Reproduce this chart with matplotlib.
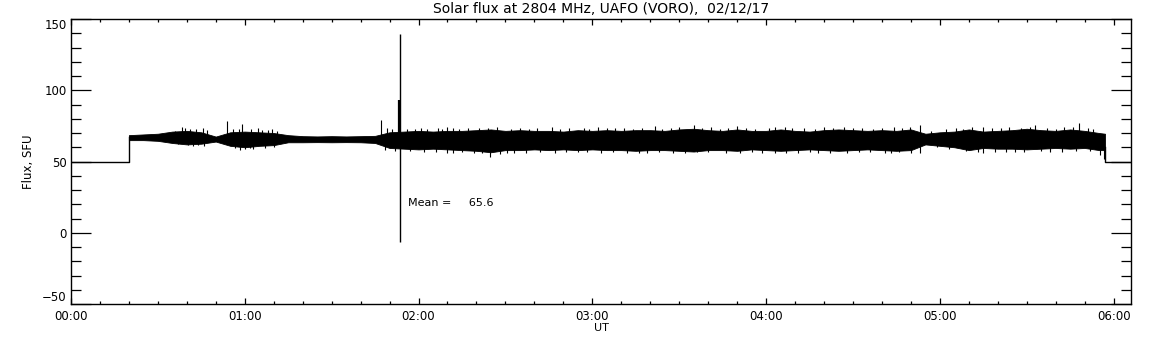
import numpy as np
import matplotlib
matplotlib.use("Agg")
import matplotlib.pyplot as plt
from matplotlib.ticker import MultipleLocator, FixedLocator

# --- values (time in minutes after 00:00 UT) --- #

title = "Solar flux at 2804 MHz, UAFO (VORO),  02/12/17"
mean_flux = 65.6

# quiet level before / after the observation
base_level = 50.0
t_start = 20.0
t_end = 357.0
t_axis_end = 366.0

# envelope of the noisy flux record, one value every 5 minutes
t_env = [20, 25, 30, 35, 40, 45, 50, 55, 60, 65, 70, 75, 80, 85, 90, 95,
         100, 105, 110, 115, 120, 125, 130, 135, 140, 145, 150, 155, 160,
         165, 170, 175, 180, 185, 190, 195, 200, 205, 210, 215, 220, 225,
         230, 235, 240, 245, 250, 255, 260, 265, 270, 275, 280, 285, 290,
         295, 300, 305, 310, 315, 320, 325, 330, 335, 340, 345, 350, 355, 357]
flux_top = [68.5, 69.0, 69.5, 71.0, 71.5, 70.5, 67.5, 70.5, 71.0, 70.5,
            70.0, 68.5, 67.8, 67.6, 67.8, 67.6, 67.8, 68.0, 70.5, 71.0,
            71.5, 71.0, 71.5, 71.5, 72.0, 72.5, 71.5, 72.0, 71.5, 71.5,
            71.0, 72.0, 71.5, 72.0, 71.5, 72.0, 72.0, 71.5, 72.5, 73.0,
            72.0, 71.5, 72.5, 71.5, 71.5, 72.5, 71.5, 71.0, 72.0, 72.5,
            72.0, 71.5, 72.0, 71.5, 72.5, 69.5, 70.5, 71.0, 72.5, 71.0,
            71.5, 72.0, 73.0, 72.0, 71.5, 72.5, 71.5, 70.0, 69.5]
flux_bot = [65.0, 65.0, 64.5, 63.0, 62.0, 62.5, 64.0, 61.0, 60.0, 61.0,
            61.5, 63.5, 63.5, 63.6, 63.5, 63.6, 63.5, 63.0, 59.5, 59.0,
            58.5, 59.0, 58.5, 58.0, 57.5, 56.5, 58.0, 58.0, 58.5, 58.0,
            58.5, 58.0, 58.5, 58.0, 58.0, 57.5, 58.0, 58.0, 57.5, 57.0,
            58.0, 58.0, 57.5, 58.5, 58.0, 57.5, 58.0, 58.5, 58.0, 57.5,
            58.0, 58.5, 58.0, 57.5, 58.0, 62.0, 61.0, 60.0, 58.0, 59.5,
            59.0, 59.0, 58.5, 59.0, 59.5, 59.0, 59.5, 58.0, 58.0]

# single spikes sticking out of the band
spike_t = [36, 38.2, 39.4, 41, 43, 45.6, 47, 54.0, 56, 58, 59.2, 62, 64.7,
           66, 68, 69.3, 71, 107.0, 109.0, 111, 116, 118.8, 121, 123, 126.8,
           128, 129.8, 132.0, 134, 137, 141, 144.0, 147, 152, 155, 158, 161,
           166.0, 169, 172, 177, 179, 182.0, 185, 188.0, 191, 194, 197,
           201.7, 204, 207, 210, 215.0, 218, 221, 224, 227, 230.0, 233, 236,
           241, 243, 246.6, 249, 253, 257, 260, 263, 267, 270.0, 273, 277,
           280, 284, 287, 289.8, 293.3, 297, 302, 305.6, 308, 311, 315.0,
           318, 321, 324, 328, 331, 333.0, 337, 340, 343, 346.0, 348.2, 351,
           353]
spike_v = [71.5, 74.4, 73.3, 72.5, 73.0, 73.3, 72.0, 78.4, 72.5, 73.0, 76.0,
           72.8, 73.3, 72.0, 72.4, 72.6, 71.5, 79.1, 73.3, 72.5, 73.0, 72.6,
           73.2, 72.8, 73.3, 72.5, 74.4, 73.3, 73.0, 73.8, 73.2, 73.3, 74.0,
           73.0, 73.6, 72.8, 73.4, 74.4, 72.9, 73.5, 73.8, 73.0, 74.4, 73.2,
           73.3, 73.6, 72.9, 73.8, 74.9, 73.1, 73.7, 74.0, 75.6, 73.3, 73.9,
           73.0, 73.5, 74.9, 73.8, 73.1, 73.6, 74.0, 74.4, 73.2, 73.7, 73.0,
           73.9, 73.4, 74.0, 73.3, 73.8, 73.1, 73.6, 74.1, 73.2, 74.4, 75.6,
           71.5, 72.5, 73.3, 73.0, 74.0, 74.4, 73.2, 73.6, 73.9, 73.4, 74.3,
           75.6, 73.6, 73.0, 74.2, 74.4, 77.3, 73.5, 72.8]
dip_t = [37, 40.5, 42, 44, 46, 56.5, 58.4, 60, 61.8, 63, 67, 70, 108.5, 112,
         117, 122, 126, 130.0, 132.0, 135, 139, 142, 144.7, 148, 150.5, 153,
         157, 162, 167, 171, 175.0, 178, 183, 187, 192, 196, 199.0, 203,
         208, 212.0, 216, 220, 226, 231, 235, 238.6, 243, 247, 251.0, 255,
         258, 262, 268, 272, 276, 281, 283.0, 286, 290, 293.0, 299, 303,
         309, 313, 315.0, 319, 323, 326.0, 329, 335, 338, 342, 347, 352,
         355.4, 356.5]
dip_v = [62.0, 61.6, 61.0, 61.3, 61.0, 59.5, 58.1, 58.8, 59.3, 59.0, 59.5,
         60.0, 58.0, 57.5, 57.2, 56.8, 57.0, 55.7, 55.7, 56.5, 56.0, 56.3,
         53.4, 55.5, 55.7, 56.3, 56.0, 56.6, 56.2, 56.8, 57.0, 56.4, 56.1,
         56.7, 56.2, 55.9, 56.2, 56.5, 56.0, 55.7, 56.4, 56.8, 56.1, 55.8,
         56.6, 55.7, 56.2, 55.9, 56.2, 56.6, 56.0, 56.3, 55.8, 56.5, 56.9,
         56.1, 55.7, 56.4, 56.0, 55.7, 60.0, 58.5, 57.5, 56.8, 56.2, 57.0,
         56.8, 57.0, 56.5, 57.2, 57.0, 56.7, 57.1, 57.3, 54.5, 52.0]

# the burst near 01:53
burst_t = 113.6
burst_lo = -6.5
burst_hi = 139.5
burst2_t = 113.2
burst2_hi = 93.2

# --- figure --- #

plt.rcParams['font.family'] = ['DejaVu Sans']
fig = plt.figure(figsize=(11.52, 3.45), dpi=100)
ax = fig.add_axes([0.0616, 0.1188, 0.9202, 0.8261])

k = 'black'
# baseline before and after
ax.plot([0, t_start, t_start], [base_level, base_level, 67.0], color=k, lw=1.0)
ax.plot([t_end, t_end, t_axis_end], [60.0, base_level, base_level], color=k, lw=1.0)

# the noisy band
ax.fill_between(t_env, flux_bot, flux_top, color=k, lw=0.6, edgecolor=k)

ax.vlines(spike_t, mean_flux, spike_v, color=k, lw=0.8)
ax.vlines(dip_t, dip_v, mean_flux, color=k, lw=0.8)
ax.vlines([burst_t], burst_lo, burst_hi, color=k, lw=1.0)
ax.vlines([burst2_t], mean_flux, burst2_hi, color=k, lw=1.6)

ax.text(116.5, 21.0, "Mean =     %.1f" % mean_flux, fontsize=8, va='center')

ax.set_xlim(0, t_axis_end)
ax.set_ylim(-50, 150)

xt = [0, 60, 120, 180, 240, 300, 360]
xl = ["00:00", "01:00", "02:00", "03:00", "04:00", "05:00", "06:00"]
ax.xaxis.set_major_locator(FixedLocator(xt))
ax.set_xticklabels(xl)
ax.xaxis.set_minor_locator(MultipleLocator(10))
ax.yaxis.set_major_locator(FixedLocator([-50, 0, 50, 100, 150]))
ax.yaxis.set_minor_locator(MultipleLocator(10))

ax.tick_params(axis='both', which='both', direction='in', top=True,
               right=True, color=k, width=0.9, labelsize=8.5)
ax.tick_params(axis='y', which='major', length=14.4, pad=3)
ax.tick_params(axis='y', which='minor', length=7.2)
ax.tick_params(axis='x', which='major', length=4.0, pad=4)
ax.tick_params(axis='x', which='minor', length=2.0)
for s in ax.spines.values():
    s.set_linewidth(1.0)

# end labels of the y axis sit inside the axis range, as in the original
fig.canvas.draw()
ylabs = ax.get_yticklabels()
ylabs[0].set_verticalalignment('bottom')
ylabs[-1].set_verticalalignment('top')

ax.set_xlabel("UT", fontsize=8, labelpad=0)
ax.set_ylabel("Flux, SFU", fontsize=8.5, labelpad=5)
ax.set_title(title, fontsize=10, pad=4)

fig.savefig("out.png", dpi=100)
